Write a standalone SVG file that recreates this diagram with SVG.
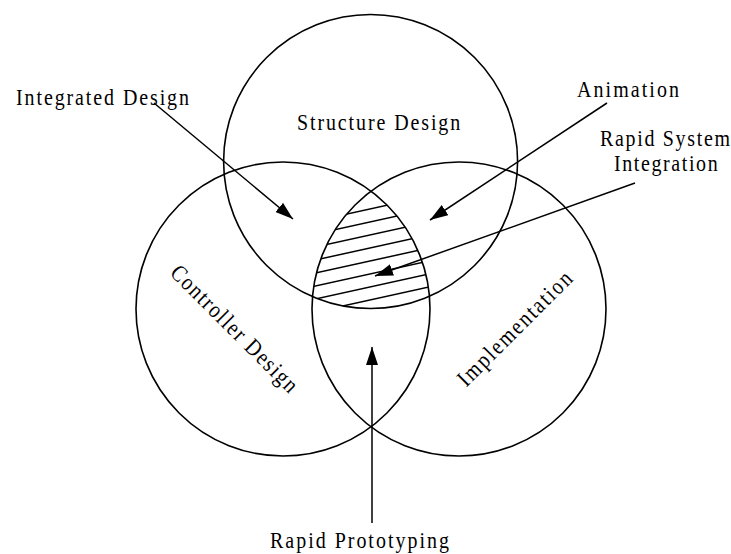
<svg xmlns="http://www.w3.org/2000/svg" width="731" height="554" viewBox="0 0 731 554">
<style>
.c{fill:none;stroke:#000;stroke-width:1.6}
.h{stroke:#000;stroke-width:1.5}
.a{stroke:#000;stroke-width:1.5;fill:none;marker-end:url(#ah)}
text{font-family:"Liberation Serif","Times New Roman",serif;font-size:23.5px;fill:#000}
</style>
<defs>
<marker id="ah" markerUnits="userSpaceOnUse" markerWidth="18" markerHeight="12" refX="18" refY="6" orient="auto" viewBox="0 0 18 12">
<path d="M0,0 L18,6 L0,12 z" fill="#000"/>
</marker>
<clipPath id="cT"><circle cx="370.6" cy="161.5" r="147"/></clipPath>
<clipPath id="cL"><circle cx="283" cy="309" r="147"/></clipPath>
<clipPath id="cR"><circle cx="459" cy="309" r="147"/></clipPath>
</defs>
<rect width="731" height="554" fill="#fff"/>
<g id="structure-design">
<circle class="c" cx="370.6" cy="161.5" r="147"/>
<text x="0" y="0" textLength="192" lengthAdjust="spacing" transform="translate(297,129.5) scale(0.85,1)">Structure Design</text>
</g>
<g id="controller-design">
<circle class="c" cx="283" cy="309" r="147"/>
<text x="0" y="0" text-anchor="middle" textLength="200" lengthAdjust="spacing" transform="translate(229,334) rotate(45) scale(0.85,1)">Controller Design</text>
</g>
<g id="implementation">
<circle class="c" cx="459" cy="309" r="147"/>
<text x="0" y="0" text-anchor="middle" textLength="179" lengthAdjust="spacing" transform="translate(520,334) rotate(-45) scale(0.85,1)">Implementation</text>
</g>
<g id="rapid-system-integration-region">
<g clip-path="url(#cR)"><g clip-path="url(#cL)"><g clip-path="url(#cT)">
<line class="h" x1="300" y1="224.4" x2="440" y2="193.6"/>
<line class="h" x1="300" y1="237.4" x2="440" y2="206.6"/>
<line class="h" x1="300" y1="250.4" x2="440" y2="219.6"/>
<line class="h" x1="300" y1="263.4" x2="440" y2="232.6"/>
<line class="h" x1="300" y1="276.4" x2="440" y2="245.6"/>
<line class="h" x1="300" y1="289.4" x2="440" y2="258.6"/>
<line class="h" x1="300" y1="302.4" x2="440" y2="271.6"/>
<line class="h" x1="300" y1="315.4" x2="440" y2="284.6"/>
</g></g></g>
</g>
<g id="label-integrated-design"><text x="0" y="0" textLength="203.5" lengthAdjust="spacing" transform="translate(16,105) scale(0.85,1)">Integrated Design</text></g>
<g id="label-animation"><text x="0" y="0" textLength="120" lengthAdjust="spacing" transform="translate(577,97) scale(0.85,1)">Animation</text></g>
<g id="label-rapid-system-integration">
<text x="0" y="0" textLength="153" lengthAdjust="spacing" transform="translate(600,146) scale(0.85,1)">Rapid System</text>
<text x="0" y="0" textLength="122" lengthAdjust="spacing" transform="translate(614,171) scale(0.85,1)">Integration</text>
</g>
<g id="label-rapid-prototyping"><text x="0" y="0" textLength="210.5" lengthAdjust="spacing" transform="translate(270,548) scale(0.85,1)">Rapid Prototyping</text></g>
<g id="connectors">
<line class="a" x1="154" y1="103" x2="293" y2="219"/>
<line class="a" x1="607" y1="103" x2="430" y2="220"/>
<line class="a" x1="635" y1="183" x2="375" y2="276"/>
<line class="a" x1="372" y1="523" x2="372" y2="347"/>
</g>
</svg>
